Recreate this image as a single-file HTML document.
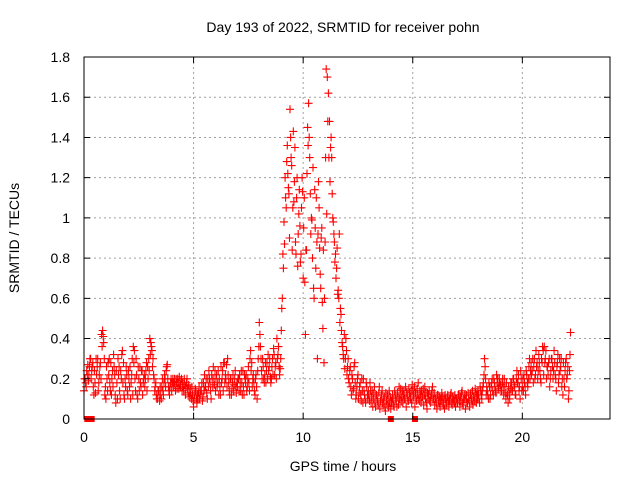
<!DOCTYPE html>
<html><head><meta charset="utf-8"><style>
body{margin:0;background:#fff}
svg{display:block;font-family:"Liberation Sans",sans-serif}
</style></head><body>
<svg id="chart" width="640" height="480" viewBox="0 0 640 480">
<rect width="640" height="480" fill="#fff"/>
<g id="grid"></g>
<g id="marks"></g>
<g id="axes"></g>
<text x="343" y="32" font-size="14" text-anchor="middle">Day 193 of 2022, SRMTID for receiver pohn</text>
<text x="343" y="471" font-size="14" text-anchor="middle">GPS time / hours</text>
<text x="19" y="238" font-size="14" text-anchor="middle" transform="rotate(-90 19 238)">SRMTID / TECUs</text>
</svg>
<script>
const xTicks=[0,5,10,15,20];
const yTicks=[0,0.2,0.4,0.6,0.8,1,1.2,1.4,1.6,1.8];
const yTickLabels=["0","0.2","0.4","0.6","0.8","1","1.2","1.4","1.6","1.8"];
const startHour=0, stepHour=0.05;
const startHour2=0.025;
const zeroHours=[0.15,0.35,14.0,15.1];
const values=[
0.14,0.2,0.16,0.22,0.19,0.26,0.3,0.24,0.28,0.12,0.18,0.3,0.26,0.14,0.22,0.28,0.42,0.44,0.38,0.12,
0.1,0.2,0.28,0.3,0.14,0.12,0.24,0.32,0.22,0.08,0.18,0.3,0.26,0.1,0.2,0.34,0.28,0.1,0.16,0.22,
0.12,0.2,0.26,0.18,0.3,0.36,0.34,0.14,0.22,0.1,0.2,0.26,0.16,0.24,0.18,0.22,0.2,0.28,0.26,0.3,
0.4,0.38,0.34,0.3,0.2,0.16,0.12,0.1,0.14,0.09,0.12,0.16,0.14,0.18,0.2,0.24,0.27,0.16,0.12,0.18,
0.14,0.2,0.18,0.17,0.2,0.15,0.18,0.21,0.16,0.2,0.18,0.14,0.17,0.16,0.2,0.13,0.11,0.15,0.1,0.12,
0.06,0.12,0.14,0.08,0.1,0.16,0.12,0.14,0.09,0.18,0.22,0.16,0.13,0.2,0.24,0.18,0.1,0.2,0.26,0.17,
0.14,0.22,0.18,0.12,0.16,0.26,0.2,0.14,0.28,0.22,0.27,0.3,0.18,0.12,0.2,0.15,0.22,0.17,0.24,0.13,
0.16,0.2,0.22,0.14,0.18,0.24,0.12,0.2,0.22,0.16,0.26,0.14,0.34,0.28,0.2,0.18,0.12,0.22,0.1,0.3,
0.48,0.36,0.24,0.3,0.2,0.22,0.18,0.28,0.32,0.26,0.21,0.2,0.3,0.35,0.22,0.28,0.4,0.32,0.26,0.25,
0.44,0.6,0.75,0.87,1.1,1.28,1.22,1.12,1.54,1.3,0.84,1.43,1.18,0.88,1.1,0.76,1.02,0.96,0.82,1.2,
0.7,1.1,0.42,0.84,1.45,1.57,1.3,0.92,0.99,1.25,0.6,0.95,1.1,0.3,1.18,0.85,0.65,0.95,0.45,0.28,
0.88,1.74,1.7,1.62,1.48,1.35,1.3,1.0,0.92,0.78,0.7,0.85,0.64,0.92,0.55,0.44,0.36,0.3,0.25,0.4,
0.22,0.3,0.18,0.26,0.12,0.2,0.15,0.28,0.1,0.16,0.22,0.13,0.18,0.09,0.14,0.2,0.12,0.08,0.16,0.1,
0.12,0.18,0.08,0.14,0.1,0.16,0.06,0.12,0.09,0.13,0.05,0.1,0.14,0.07,0.11,0.04,0.09,0.12,0.06,0.08,
0.05,0.08,0.1,0.06,0.12,0.09,0.13,0.07,0.1,0.15,0.11,0.08,0.14,0.1,0.06,0.12,0.09,0.13,0.1,0.08,
0.14,0.12,0.06,0.1,0.15,0.18,0.09,0.12,0.14,0.11,0.07,0.16,0.13,0.05,0.1,0.14,0.08,0.12,0.16,0.1,
0.07,0.1,0.05,0.12,0.08,0.06,0.09,0.11,0.07,0.05,0.1,0.08,0.12,0.06,0.09,0.13,0.07,0.1,0.08,0.06,
0.1,0.08,0.12,0.06,0.09,0.14,0.07,0.1,0.05,0.12,0.08,0.1,0.06,0.13,0.09,0.07,0.11,0.15,0.08,0.1,
0.12,0.08,0.14,0.1,0.16,0.22,0.26,0.12,0.14,0.1,0.16,0.12,0.18,0.14,0.2,0.16,0.13,0.18,0.15,0.2,
0.17,0.14,0.2,0.12,0.16,0.1,0.13,0.08,0.12,0.15,0.18,0.14,0.2,0.16,0.12,0.24,0.18,0.14,0.1,0.2,
0.16,0.14,0.18,0.12,0.22,0.16,0.26,0.2,0.28,0.24,0.18,0.3,0.22,0.26,0.2,0.32,0.24,0.18,0.28,0.34,
0.36,0.3,0.2,0.26,0.28,0.16,0.24,0.3,0.2,0.34,0.22,0.14,0.28,0.18,0.3,0.26,0.16,0.12,0.2,0.24,
0.3,0.22,0.1,0.24,0.43
];
const values2=[
0.2,0.18,0.24,0.27,0.22,0.3,0.2,0.26,0.16,0.24,0.13,0.22,0.3,0.18,0.26,0.2,0.36,0.41,0.3,0.16,
0.26,0.14,0.22,0.18,0.28,0.2,0.16,0.26,0.12,0.24,0.1,0.22,0.14,0.24,0.32,0.18,0.12,0.2,0.26,0.14,
0.24,0.16,0.1,0.22,0.12,0.28,0.2,0.3,0.12,0.26,0.14,0.18,0.24,0.12,0.2,0.16,0.24,0.14,0.2,0.24,
0.32,0.36,0.26,0.22,0.14,0.18,0.1,0.14,0.12,0.16,0.1,0.2,0.12,0.22,0.16,0.26,0.2,0.14,0.16,0.2,
0.18,0.16,0.2,0.14,0.18,0.2,0.15,0.17,0.19,0.14,0.16,0.2,0.12,0.18,0.15,0.17,0.13,0.12,0.16,0.09,
0.1,0.15,0.1,0.12,0.13,0.1,0.14,0.18,0.11,0.14,0.16,0.2,0.1,0.16,0.2,0.14,0.22,0.16,0.2,0.24,
0.2,0.16,0.24,0.2,0.12,0.18,0.24,0.28,0.18,0.2,0.16,0.22,0.14,0.2,0.12,0.18,0.14,0.2,0.16,0.18,
0.2,0.14,0.18,0.24,0.12,0.16,0.22,0.18,0.14,0.2,0.18,0.3,0.24,0.16,0.22,0.14,0.2,0.16,0.24,0.36,
0.42,0.3,0.2,0.26,0.18,0.28,0.24,0.2,0.24,0.3,0.18,0.26,0.22,0.32,0.26,0.2,0.3,0.36,0.22,0.3,
0.55,0.82,0.98,1.2,1.05,1.36,1.15,0.9,1.4,1.26,1.05,1.08,1.35,0.82,1.2,0.92,1.14,0.78,1.05,1.13,
0.95,0.68,0.84,1.22,1.36,1.4,1.12,1.0,0.8,0.65,1.14,0.75,0.88,0.92,1.05,0.72,0.9,0.58,0.84,0.6,
1.3,1.02,1.48,1.3,1.18,1.4,1.12,0.98,0.88,0.82,0.75,0.62,0.6,0.48,0.52,0.38,0.32,0.42,0.3,0.34,
0.26,0.2,0.24,0.16,0.22,0.14,0.26,0.18,0.12,0.2,0.1,0.16,0.12,0.2,0.08,0.14,0.1,0.18,0.12,0.14,
0.09,0.14,0.11,0.06,0.13,0.08,0.12,0.1,0.07,0.16,0.09,0.12,0.08,0.1,0.06,0.13,0.07,0.1,0.14,0.11,
0.09,0.12,0.07,0.14,0.1,0.06,0.11,0.16,0.12,0.09,0.14,0.12,0.1,0.16,0.13,0.09,0.15,0.11,0.14,0.17,
0.11,0.16,0.13,0.09,0.12,0.1,0.14,0.08,0.11,0.15,0.12,0.1,0.08,0.13,0.12,0.09,0.11,0.14,0.1,0.13,
0.1,0.08,0.12,0.09,0.11,0.1,0.13,0.08,0.1,0.12,0.07,0.11,0.09,0.1,0.12,0.08,0.11,0.09,0.12,0.1,
0.08,0.12,0.09,0.11,0.13,0.08,0.1,0.12,0.1,0.08,0.13,0.09,0.12,0.1,0.14,0.11,0.09,0.13,0.12,0.14,
0.1,0.16,0.12,0.14,0.18,0.3,0.2,0.16,0.12,0.18,0.1,0.16,0.2,0.12,0.18,0.14,0.22,0.2,0.16,0.18,
0.14,0.18,0.16,0.2,0.13,0.18,0.12,0.16,0.1,0.18,0.14,0.2,0.17,0.12,0.2,0.18,0.22,0.16,0.24,0.14,
0.2,0.22,0.16,0.24,0.18,0.2,0.3,0.24,0.22,0.3,0.26,0.2,0.34,0.28,0.24,0.28,0.2,0.3,0.36,0.22,
0.28,0.34,0.26,0.22,0.3,0.2,0.3,0.26,0.24,0.28,0.2,0.26,0.32,0.22,0.24,0.3,0.2,0.28,0.16,0.28,
0.2,0.26,0.14,0.32
];
const L=84,R=610,T=57,B=419,XMAX=24,YMAX=1.8;
const xs=h=>L+(R-L)*h/XMAX;
const ys=v=>B-(B-T)*v/YMAX;
const NS="http://www.w3.org/2000/svg";
function mk(tag,attrs,parent){const e=document.createElementNS(NS,tag);for(const k in attrs)e.setAttribute(k,attrs[k]);parent.appendChild(e);return e;}
const grid=document.getElementById('grid'),axes=document.getElementById('axes'),marks=document.getElementById('marks');
xTicks.forEach(t=>{
 if(t>0){const g=mk('line',{x1:xs(t),x2:xs(t),y1:T,y2:B,stroke:'#a0a0a0','stroke-dasharray':'2,3','stroke-width':1},grid);
 
 }
 const tk=mk('path',{d:`M${xs(t)},${B}v-6M${xs(t)},${T}v6`,stroke:'#000'},axes);
 
 
 const lb=mk('text',{x:xs(t),y:B+23,'font-size':14,'text-anchor':'middle'},axes);lb.textContent=t;
 
 
});
yTicks.forEach((t,i)=>{
 if(t>0&&t<YMAX){const g=mk('line',{x1:L,x2:R,y1:ys(t),y2:ys(t),stroke:'#a0a0a0','stroke-dasharray':'2,3','stroke-width':1},grid);
 
 }
 const tk=mk('path',{d:`M${L},${ys(t)}h6M${R},${ys(t)}h-6`,stroke:'#000'},axes);
 
 
 const lb=mk('text',{x:L-14,y:ys(t)+5,'font-size':14,'text-anchor':'end'},axes);lb.textContent=yTickLabels[i];
 
 
});
const frame=mk('rect',{x:L,y:T,width:R-L,height:B-T,fill:'none',stroke:'#000','stroke-width':1},axes);


function crosses(arr,start){let d='';arr.forEach((v,i)=>{const x=xs(start+i*stepHour),y=ys(v);d+=`M${(x-4).toFixed(1)},${y.toFixed(1)}h8M${x.toFixed(1)},${(y-4).toFixed(1)}v8`;});return d;}
const pts=mk('path',{d:crosses(values,startHour),stroke:'#ff0000','stroke-width':1.1,fill:'none'},marks);


const pts2=mk('path',{d:crosses(values2,startHour2),stroke:'#ff0000','stroke-width':1.1,fill:'none'},marks);


zeroHours.forEach(h=>{const s=mk('rect',{x:xs(h)-3,y:B-3,width:6,height:6,fill:'#ff0000'},marks);
 
 });
</script>
</body></html>
